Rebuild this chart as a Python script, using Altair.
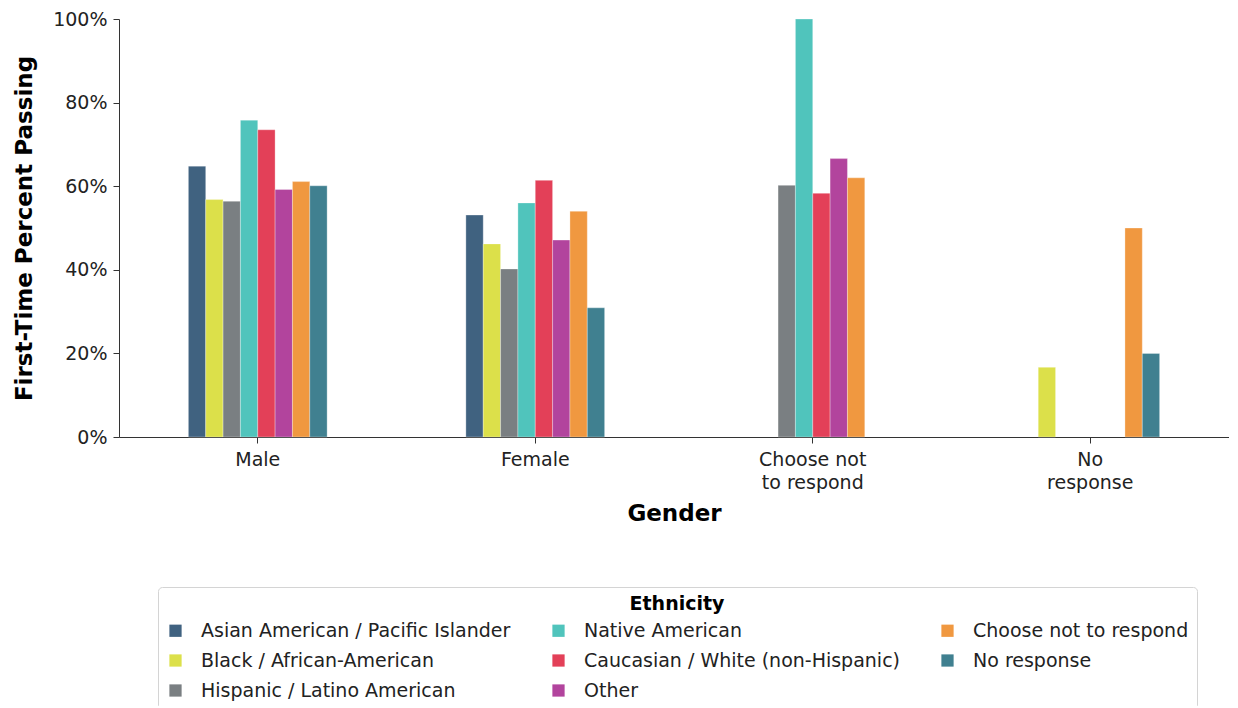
import altair as alt
import pandas as pd

genders = ["Male", "Female", "Choose not to respond", "No response"]
ethnicities = [
    "Asian American / Pacific Islander",
    "Black / African-American",
    "Hispanic / Latino American",
    "Native American",
    "Caucasian / White (non-Hispanic)",
    "Other",
    "Choose not to respond",
    "No response",
]
colors = ["#406280", "#dce04a", "#7a7f82", "#50c4bc", "#e34058", "#b2449d", "#f09840", "#408090"]

male = [0.648, 0.568, 0.564, 0.758, 0.735, 0.592, 0.611, 0.601]
female = [0.531, 0.462, 0.402, 0.560, 0.614, 0.471, 0.540, 0.309]
choose_not = [None, None, 0.602, 1.0, 0.583, 0.666, 0.620, None]
no_resp = [None, 0.1667, None, None, None, None, 0.50, 0.20]

rows = []
for g, vals in zip(genders, [male, female, choose_not, no_resp]):
    for e, v in zip(ethnicities, vals):
        if v is not None:
            rows.append({"Gender": g, "Ethnicity": e, "Pass": v})
df = pd.DataFrame(rows)

label_expr = ("datum.value == 'Choose not to respond' ? ['Choose not', 'to respond'] : "
              "datum.value == 'No response' ? ['No', 'response'] : datum.value")

chart = alt.Chart(df).mark_bar(stroke="white", strokeWidth=0.6, strokeOpacity=0.5).encode(
    x=alt.X("Gender:N", sort=genders,
            scale=alt.Scale(domain=genders, paddingInner=0.5, paddingOuter=0.25),
            axis=alt.Axis(title="Gender", labelAngle=0, labelExpr=label_expr,
                          labelLineHeight=23, labelPadding=7, titlePadding=10)),
    xOffset=alt.XOffset("Ethnicity:N", sort=ethnicities,
                        scale=alt.Scale(domain=ethnicities, paddingInner=0, paddingOuter=0)),
    y=alt.Y("Pass:Q", scale=alt.Scale(domain=[0, 1], nice=False),
            axis=alt.Axis(title="First-Time Percent Passing", format=".0%",
                          values=[0, 0.2, 0.4, 0.6, 0.8, 1.0], labelPadding=6, titlePadding=16)),
    color=alt.Color("Ethnicity:N", scale=alt.Scale(domain=ethnicities, range=colors),
                    legend=alt.Legend(title="Ethnicity", orient="none", legendX=39, legendY=568,
                                      columns=3, columnPadding=38, rowPadding=10,
                                      symbolType="square", symbolSize=150, symbolStrokeWidth=0,
                                      labelOffset=16, labelFontSize=19, labelColor="#222",
                                      labelLimit=0,
                                      titleFontSize=19, titleFontWeight="bold", titleColor="#000",
                                      titleAnchor="middle", titlePadding=7,
                                      strokeColor="#d4d4d4", cornerRadius=4, padding=8,
                                      fillColor="white", gridAlign="each")),
).properties(
    width=1110, height=418,
    padding={"left": 5, "top": 2, "right": 0, "bottom": -4},
).configure(
    font="DejaVu Sans",
).configure_view(
    stroke=None,
).configure_axis(
    grid=False,
    domainColor="#333",
    tickColor="#333",
    tickSize=6,
    labelFont="DejaVu Sans",
    labelFontSize=19,
    labelColor="#222",
    titleFont="DejaVu Sans",
    titleFontSize=23,
    titleFontWeight="bold",
    titleColor="#000",
)

chart.save("out.html", embed_options={"renderer": "svg", "actions": False})
